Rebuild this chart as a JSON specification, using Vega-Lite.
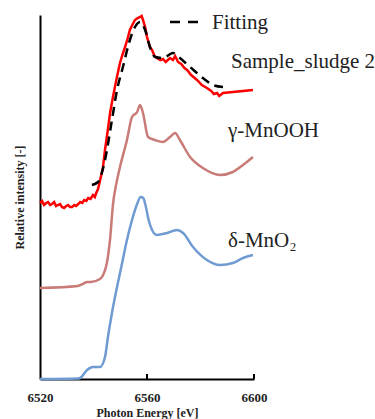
{
  "$schema": "https://vega.github.io/schema/vega-lite/v6.json",
  "autosize": "none",
  "width": 214,
  "height": 364,
  "padding": {"left": 40, "top": 15, "right": 121, "bottom": 40},
  "background": "white",
  "config": {
    "view": {"stroke": null},
    "font": "Times New Roman, Liberation Serif, serif",
    "axis": {"grid": false, "domainColor": "black", "domainWidth": 2, "labelFont": "Times New Roman, Liberation Serif, serif", "titleFont": "Times New Roman, Liberation Serif, serif", "labelColor": "#222222", "titleColor": "#222222"}
  },
  "datasets": {
    "spectra": [
      {"E": 6520, "I": 0, "s": "d"}, {"E": 6534.2, "I": 0.5, "s": "d"}, {"E": 6535.0, "I": 1, "s": "d"}, {"E": 6537.6, "I": 9, "s": "d"}, {"E": 6539.8, "I": 12, "s": "d"}, {"E": 6542.4, "I": 12, "s": "d"}, {"E": 6544.3, "I": 22, "s": "d"}, {"E": 6545.4, "I": 42, "s": "d"}, {"E": 6546.9, "I": 66, "s": "d"}, {"E": 6548.8, "I": 92, "s": "d"}, {"E": 6550.7, "I": 116, "s": "d"}, {"E": 6552.5, "I": 139, "s": "d"}, {"E": 6554.4, "I": 159, "s": "d"}, {"E": 6556.3, "I": 175, "s": "d"}, {"E": 6557.6, "I": 182, "s": "d"}, {"E": 6558.6, "I": 181, "s": "d"}, {"E": 6559.6, "I": 172, "s": "d"}, {"E": 6560.6, "I": 159, "s": "d"}, {"E": 6561.9, "I": 149, "s": "d"}, {"E": 6563.7, "I": 144, "s": "d"}, {"E": 6567.5, "I": 146, "s": "d"}, {"E": 6571.2, "I": 149, "s": "d"}, {"E": 6573.5, "I": 146, "s": "d"}, {"E": 6577.2, "I": 132, "s": "d"}, {"E": 6582.4, "I": 119, "s": "d"}, {"E": 6587.3, "I": 114, "s": "d"}, {"E": 6592.1, "I": 116, "s": "d"}, {"E": 6595.9, "I": 121, "s": "d"}, {"E": 6599.6, "I": 124, "s": "d"},
      {"E": 6520, "I": 91, "s": "g"}, {"E": 6534.2, "I": 93, "s": "g"}, {"E": 6536, "I": 95, "s": "g"}, {"E": 6537.6, "I": 97, "s": "g"}, {"E": 6539, "I": 97, "s": "g"}, {"E": 6542.4, "I": 100, "s": "g"}, {"E": 6543.6, "I": 104, "s": "g"}, {"E": 6545, "I": 116, "s": "g"}, {"E": 6546.2, "I": 140, "s": "g"}, {"E": 6547.3, "I": 175, "s": "g"}, {"E": 6548.5, "I": 195, "s": "g"}, {"E": 6549.9, "I": 212, "s": "g"}, {"E": 6552.5, "I": 239, "s": "g"}, {"E": 6554.4, "I": 262, "s": "g"}, {"E": 6556.3, "I": 267, "s": "g"}, {"E": 6557.4, "I": 274, "s": "g"}, {"E": 6558.5, "I": 266, "s": "g"}, {"E": 6560.4, "I": 242, "s": "g"}, {"E": 6563.0, "I": 239, "s": "g"}, {"E": 6566.0, "I": 237, "s": "g"}, {"E": 6568.6, "I": 242, "s": "g"}, {"E": 6570.5, "I": 246, "s": "g"}, {"E": 6572.3, "I": 239, "s": "g"}, {"E": 6576.1, "I": 222, "s": "g"}, {"E": 6580.9, "I": 211, "s": "g"}, {"E": 6587.3, "I": 204, "s": "g"}, {"E": 6592.1, "I": 207, "s": "g"}, {"E": 6595.9, "I": 214, "s": "g"}, {"E": 6599.6, "I": 222, "s": "g"}
    ],
    "sample": [
      {"E": 6520, "I": 176}, {"E": 6520.8, "I": 178}, {"E": 6521.5, "I": 174}, {"E": 6522.3, "I": 176}, {"E": 6523, "I": 177}, {"E": 6523.8, "I": 174}, {"E": 6524.5, "I": 175}, {"E": 6525.3, "I": 177}, {"E": 6526, "I": 173}, {"E": 6526.7, "I": 174}, {"E": 6527.5, "I": 175}, {"E": 6528.2, "I": 172}, {"E": 6529, "I": 171}, {"E": 6529.8, "I": 173}, {"E": 6530.5, "I": 174}, {"E": 6531.2, "I": 172}, {"E": 6532, "I": 172}, {"E": 6532.8, "I": 174}, {"E": 6533.5, "I": 173}, {"E": 6534.3, "I": 175}, {"E": 6535, "I": 177}, {"E": 6535.8, "I": 176}, {"E": 6536.5, "I": 179}, {"E": 6537.3, "I": 178}, {"E": 6538, "I": 181}, {"E": 6538.9, "I": 180}, {"E": 6539.8, "I": 184}, {"E": 6540.5, "I": 182}, {"E": 6541, "I": 186}, {"E": 6541.7, "I": 190}, {"E": 6542.4, "I": 198}, {"E": 6543.5, "I": 211}, {"E": 6544.3, "I": 229}, {"E": 6545.3, "I": 248}, {"E": 6546.2, "I": 266}, {"E": 6547, "I": 278}, {"E": 6548.0, "I": 292}, {"E": 6549, "I": 305}, {"E": 6549.9, "I": 316}, {"E": 6550.8, "I": 324}, {"E": 6551.8, "I": 332}, {"E": 6552.7, "I": 340}, {"E": 6553.6, "I": 349}, {"E": 6554.5, "I": 354}, {"E": 6555.5, "I": 359}, {"E": 6556.5, "I": 361}, {"E": 6557.4, "I": 362}, {"E": 6558.0, "I": 363}, {"E": 6558.5, "I": 359}, {"E": 6559.3, "I": 352}, {"E": 6560.0, "I": 342}, {"E": 6561.1, "I": 332}, {"E": 6561.9, "I": 329}, {"E": 6562.8, "I": 323}, {"E": 6563.7, "I": 321}, {"E": 6565, "I": 319}, {"E": 6566.0, "I": 320}, {"E": 6567, "I": 317}, {"E": 6568.6, "I": 321}, {"E": 6569.7, "I": 319}, {"E": 6570.5, "I": 323}, {"E": 6571.6, "I": 317}, {"E": 6572.8, "I": 315}, {"E": 6574, "I": 311}, {"E": 6575.0, "I": 309}, {"E": 6576.5, "I": 304}, {"E": 6578.7, "I": 299}, {"E": 6580.5, "I": 294}, {"E": 6582.4, "I": 291}, {"E": 6584, "I": 288}, {"E": 6585, "I": 285}, {"E": 6586.2, "I": 286}, {"E": 6587, "I": 283}, {"E": 6588.4, "I": 286}, {"E": 6599.6, "I": 289}
    ],
    "fit": [
      {"E": 6539.4, "I": 194}, {"E": 6541.7, "I": 197}, {"E": 6544.3, "I": 219}, {"E": 6546.9, "I": 259}, {"E": 6548.8, "I": 289}, {"E": 6551.0, "I": 312}, {"E": 6553.6, "I": 339}, {"E": 6555.5, "I": 352}, {"E": 6557.4, "I": 357}, {"E": 6559.3, "I": 349}, {"E": 6561.1, "I": 332}, {"E": 6563.0, "I": 322}, {"E": 6566.0, "I": 321}, {"E": 6569.7, "I": 326}, {"E": 6572.3, "I": 321}, {"E": 6576.1, "I": 312}, {"E": 6580.9, "I": 301}, {"E": 6584.7, "I": 294}, {"E": 6588.4, "I": 292}
    ],
    "legendline": [{"E": 6568.6, "I": 357}, {"E": 6580.0, "I": 357}],
    "ticks": [{"E": 6560, "I": 0, "I2": 5}, {"E": 6600, "I": 0, "I2": 5}],
    "labels": [
      {"E": 6584.3, "I": 356, "t": "Fitting"},
      {"E": 6591.4, "I": 317, "t": "Sample_sludge 2"},
      {"E": 6590.3, "I": 248, "t": "γ-MnOOH"},
      {"E": 6590.3, "I": 138, "t": "δ-MnO₂"}
    ]
  },
  "encoding": {
    "x": {"field": "E", "type": "quantitative", "scale": {"domain": [6520, 6600], "nice": false, "zero": false},
      "axis": {"values": [6520, 6560, 6600], "format": "d", "title": "Photon Energy [eV]", "labelFontWeight": "bold", "labelFontSize": 13, "titleFontWeight": "bold", "titleFontSize": 12, "ticks": false, "labelPadding": 12, "titlePadding": 3, "labelFlush": false}},
    "y": {"field": "I", "type": "quantitative", "scale": {"domain": [0, 364], "nice": false, "zero": false},
      "axis": {"labels": false, "ticks": false, "title": "Relative intensity [-]", "titleFontWeight": "bold", "titleFontSize": 12, "titlePadding": 14}}
  },
  "layer": [
    {
      "data": {"name": "spectra"},
      "mark": {"type": "line", "strokeWidth": 2.5, "interpolate": "monotone"},
      "encoding": {
        "color": {"field": "s", "type": "nominal", "scale": {"domain": ["d", "g"], "range": ["#6f9bd2", "#c97b78"]}, "legend": null}
      }
    },
    {
      "data": {"name": "sample"},
      "mark": {"type": "line", "strokeWidth": 2.5, "color": "#ff0000"},
      "encoding": {}
    },
    {
      "data": {"name": "fit"},
      "mark": {"type": "line", "strokeWidth": 2.5, "color": "black", "strokeDash": [9, 6], "interpolate": "monotone"},
      "encoding": {}
    },
    {
      "data": {"name": "legendline"},
      "mark": {"type": "line", "strokeWidth": 2.5, "color": "black", "strokeDash": [10, 8]},
      "encoding": {}
    },
    {
      "data": {"name": "ticks"},
      "mark": {"type": "rule", "strokeWidth": 2, "color": "black"},
      "encoding": {"y2": {"field": "I2"}}
    },
    {
      "data": {"name": "labels"},
      "mark": {"type": "text", "align": "left", "baseline": "middle", "font": "Times New Roman, Liberation Serif, serif", "fontSize": 21, "color": "#222222"},
      "encoding": {"text": {"field": "t"}}
    }
  ]
}
